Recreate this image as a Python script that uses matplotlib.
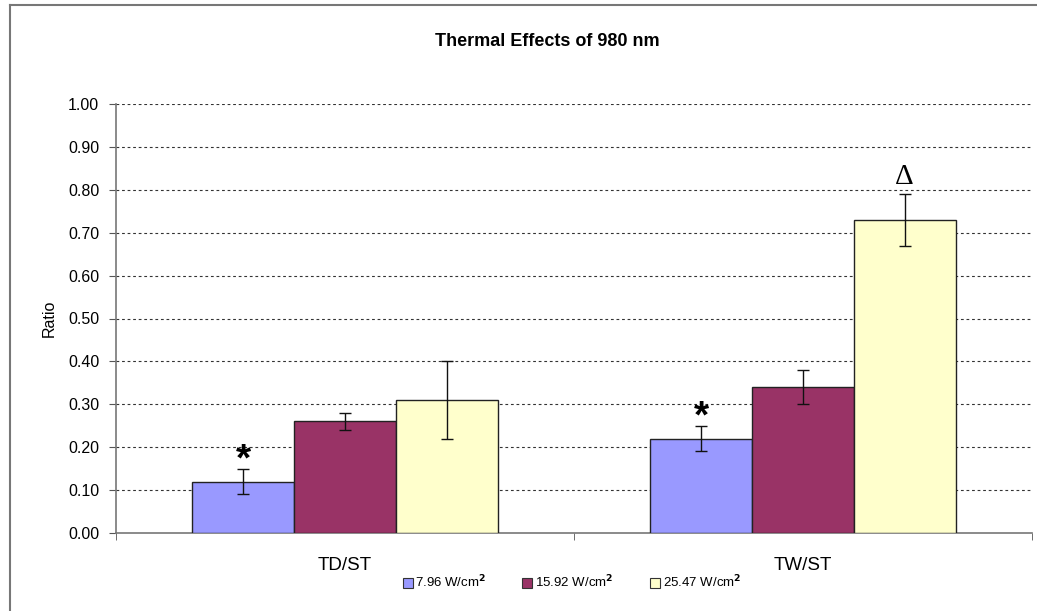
import numpy as np
import matplotlib
matplotlib.use('Agg')
import matplotlib.pyplot as plt
from matplotlib.lines import Line2D

plt.rcParams['font.family'] = ['Liberation Sans', 'DejaVu Sans']

# data
categories = ['TD/ST', 'TW/ST']
series = ['7.96 W/cm$^\\mathbf{2}$', '15.92 W/cm$^\\mathbf{2}$', '25.47 W/cm$^\\mathbf{2}$']
colors = ['#9999FF', '#993366', '#FFFFCC']
values = [[0.12, 0.22],
          [0.26, 0.34],
          [0.31, 0.73]]
errors = [[0.03, 0.03],
          [0.02, 0.04],
          [0.09, 0.06]]
# significance marks: (series index, category index, symbol)
marks = [(0, 0, '*'), (0, 1, '*'), (2, 1, '\u0394')]

fig = plt.figure(figsize=(10.37, 6.11), dpi=100)
ax = fig.add_axes([116/1037, 1-533/611, (1032-116)/1037, (533-104)/611])

x = np.arange(len(categories))
w = 0.222
for i in range(len(series)):
    ax.bar(x + (i-1)*w, values[i], w, color=colors[i], edgecolor='#222222',
           linewidth=1, zorder=3, label=series[i])
    ax.errorbar(x + (i-1)*w, values[i], yerr=errors[i], fmt='none', ecolor='#111111',
                elinewidth=1, capsize=4, capthick=1, zorder=4)

for i, j, sym in marks:
    yy = values[i][j] + errors[i][j] + 0.04
    if sym == '*':
        ax.text(x[j] + (i-1)*w, yy - 0.02, sym, ha='center', va='center',
                fontsize=28, fontweight='bold')
    else:
        ax.text(x[j] + (i-1)*w, yy, sym, ha='center', va='center',
                fontsize=21, family='Liberation Serif')

ax.set_xlim(-0.5, 1.5)
ax.set_ylim(0, 1.0)
ax.set_yticks(np.arange(0, 1.01, 0.1))
ax.set_yticklabels(['%.2f' % v for v in np.arange(0, 1.01, 0.1)], fontsize=11.5)
ax.set_xticks(x)
ax.set_xticklabels(categories, fontsize=13.5)
ax.set_xticks([-0.5, 0.5, 1.5], minor=True)
ax.tick_params(axis='x', which='major', length=0, pad=17)
ax.tick_params(axis='x', which='minor', length=5, direction='out', color='#555555')
ax.tick_params(axis='y', length=5, direction='out', color='#555555', pad=7)

for yv in np.arange(0.1, 1.01, 0.1):
    ax.axhline(yv, color='#333333', lw=0.8, ls=(0, (2.5, 2.5)), zorder=1)

for s in ['top', 'right']:
    ax.spines[s].set_visible(False)
for s in ['left', 'bottom']:
    ax.spines[s].set_color('#777777')
    ax.spines[s].set_linewidth(1.2)

ax.set_ylabel('Ratio', fontsize=11.5, labelpad=8)

fig.text(547/1037, 1-42/611, 'Thermal Effects of 980 nm', ha='center', va='center',
         fontsize=13, fontweight='bold')

handles = [Line2D([], [], marker='s', ls='none', markersize=7, markerfacecolor=c,
                  markeredgecolor='#333333', markeredgewidth=0.8) for c in colors]
fig.legend(handles, series, loc='center', bbox_to_anchor=(571/1037, 1-582/611),
           ncol=3, frameon=False, fontsize=9.5, handletextpad=0.1, columnspacing=2.6,
           handlelength=1)

# outer chart frame (left and top edges visible)
fig.add_artist(Line2D([10/1037, 10/1037], [0, 1-5/611], color='#777777', lw=1.5))
fig.add_artist(Line2D([10/1037, 1], [1-5/611, 1-5/611], color='#777777', lw=1.5))

plt.savefig('out.png', dpi=100)
